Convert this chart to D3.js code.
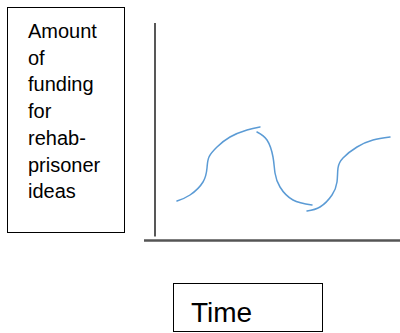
<!DOCTYPE html>
<html><head><meta charset="utf-8">
<script src="https://cdn.jsdelivr.net/npm/d3@7"></script>
<style>html,body{margin:0;padding:0;background:#fff;}svg{display:block;}</style>
</head><body>
<svg id="c" width="400" height="333"></svg>
<script>
// y-axis label lines and x-axis label
const yLabelLines = ["Amount","of","funding","for","rehab-","prisoner","ideas"];
const xLabel = "Time";
// Curve segments: [time, funding]
const segment1 = [[22,39],[35,45],[48,58],[52,72],[54,83],[62,93],[75,103],[92,110],[105,113]];
const segment2 = [[102,108],[112,100],[118,83],[120,67],[125,53],[138,40],[157,35]];
const segment3 = [[152,29],[165,33],[177,45],[182,58],[183,72],[188,82],[202,93],[218,100],[235,103]];
const segments = [segment1, segment2, segment3];

const svg = d3.select("#c");
const x = d3.scaleLinear().domain([0,240]).range([155,395]);
const y = d3.scaleLinear().domain([0,216]).range([240,24]);

// y-axis line
svg.append("line").attr("x1",x(0)).attr("x2",x(0)).attr("y1",y(217)).attr("y2",y(3.5))
  .attr("stroke","#111").attr("stroke-width",1.4);
// x-axis line
svg.append("line").attr("x1",x(-11)).attr("x2",400).attr("y1",y(-0.5)).attr("y2",y(-0.5))
  .attr("stroke","#555").attr("stroke-width",2.5);

const line = d3.line().x(d=>x(d[0])).y(d=>y(d[1])).curve(d3.curveNatural);
svg.selectAll("path.seg").data(segments).join("path").attr("class","seg")
  .attr("d",line).attr("fill","none").attr("stroke","#5b9bd5").attr("stroke-width",1.5)
  .attr("stroke-linecap","round");

// y label box
svg.append("rect").attr("x",7.5).attr("y",7.5).attr("width",117).attr("height",225)
  .attr("fill","none").attr("stroke","#000").attr("stroke-width",1);
const t = svg.append("text").attr("font-family","'Liberation Sans', Arial, sans-serif")
  .attr("font-size",20).attr("fill","#000");
yLabelLines.forEach((s,i)=>{
  t.append("tspan").attr("x",28).attr("y",38+i*26.7).text(s);
});

// x label box
svg.append("rect").attr("x",173.5).attr("y",283.5).attr("width",149).attr("height",48)
  .attr("fill","none").attr("stroke","#000").attr("stroke-width",1);
svg.append("text").attr("x",191).attr("y",322).attr("font-family","'Liberation Sans', Arial, sans-serif")
  .attr("font-size",28).attr("fill","#000").text(xLabel);
</script>
</body></html>
